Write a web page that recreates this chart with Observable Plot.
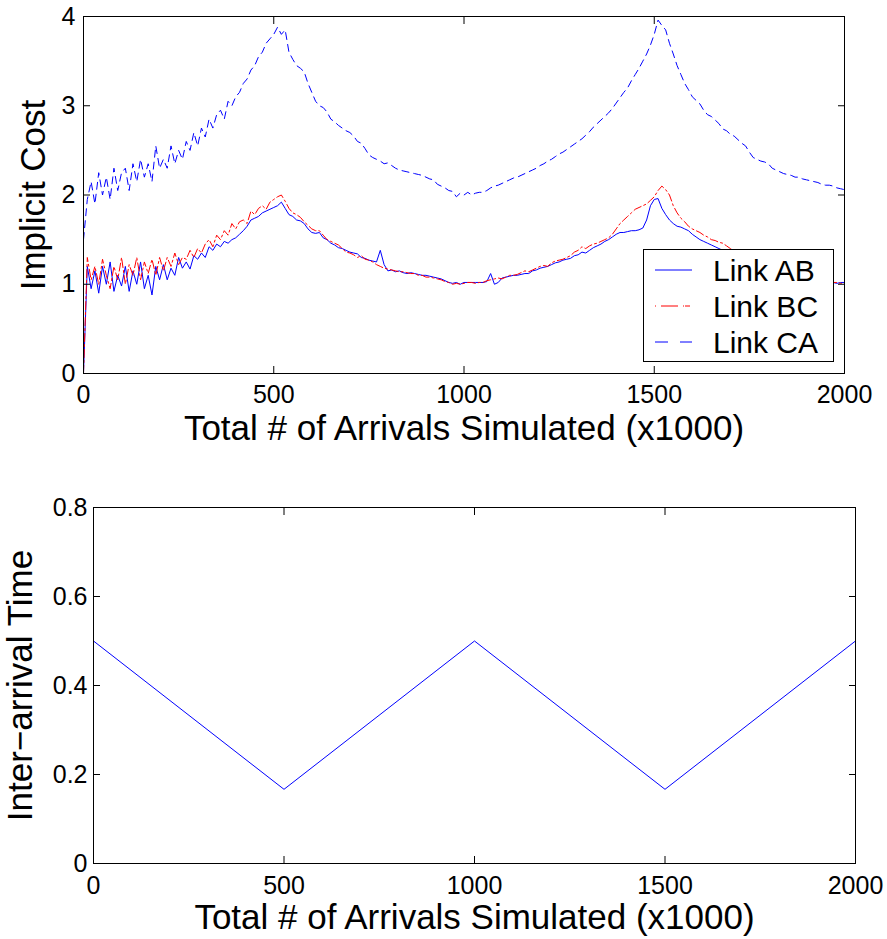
<!DOCTYPE html>
<html>
<head>
<meta charset="utf-8">
<script src="https://cdn.jsdelivr.net/npm/d3@7"></script>
<script src="https://cdn.jsdelivr.net/npm/@observablehq/plot@0.6"></script>
<style>
  html, body { margin: 0; padding: 0; background: #fff; }
  #page { position: relative; width: 887px; height: 939px; background: #fff; overflow: hidden; }
  #page > svg, #page > figure { position: absolute; margin: 0; }
  #costChart { left: 0; top: 0; }
  #rateChart { left: 0; top: 450px; }
  #legend { position: absolute; left: 643px; top: 249px; }
</style>
</head>
<body>
<div id="page"></div>
<script>
// Sample grid: total arrivals simulated (thousands), every 10k arrivals.
const arrivals = d3.range(0, 2001, 10);

// Implicit cost of each link along the run.
const costAB = [
  0,
  1.2, 0.95, 1.15, 0.9, 1.2, 1.0, 1.25, 0.92, 1.1, 0.98,
  1.2, 0.92, 1.15, 1.0, 1.25, 0.95, 1.1, 0.88, 1.2, 1.05,
  1.22, 1.05, 1.18, 1.1, 1.3, 1.18, 1.25, 1.17, 1.32, 1.28,
  1.35, 1.3, 1.42, 1.38, 1.45, 1.42, 1.48, 1.46, 1.5, 1.52,
  1.56, 1.6, 1.65, 1.72, 1.74, 1.76, 1.8, 1.82, 1.84, 1.86,
  1.88, 1.92, 1.85, 1.78, 1.76, 1.72, 1.71, 1.68, 1.62, 1.58,
  1.57, 1.58, 1.52, 1.5, 1.46, 1.44, 1.41, 1.4, 1.38, 1.36,
  1.35, 1.34, 1.3, 1.29, 1.27, 1.26, 1.25, 1.38, 1.22, 1.15,
  1.16, 1.14, 1.15, 1.13, 1.12, 1.13, 1.12, 1.11, 1.1, 1.1,
  1.09, 1.08, 1.07, 1.06, 1.04, 1.02, 1.01, 1.02, 1.0, 1.02,
  1.02, 1.02, 1.02, 1.02, 1.02, 1.03, 1.12, 1.0, 1.02, 1.07,
  1.08, 1.09, 1.1, 1.1, 1.11, 1.12, 1.12, 1.15, 1.16, 1.18,
  1.19, 1.2, 1.22, 1.24, 1.25, 1.27, 1.28, 1.29, 1.32, 1.33,
  1.36, 1.35, 1.38, 1.41, 1.43, 1.45, 1.48, 1.5, 1.53, 1.56,
  1.58, 1.58, 1.59, 1.6, 1.6, 1.61, 1.63, 1.72, 1.88, 1.95,
  1.96, 1.85, 1.78, 1.72, 1.68, 1.65, 1.64, 1.62, 1.6, 1.56,
  1.53, 1.5, 1.48, 1.46, 1.44, 1.42, 1.4, 1.38, 1.36, 1.33,
  1.31, 1.3, 1.28, 1.26, 1.25, 1.22, 1.2, 1.18, 1.16, 1.15,
  1.14, 1.13, 1.12, 1.12, 1.11, 1.1, 1.09, 1.08, 1.07, 1.06,
  1.05, 1.05, 1.04, 1.03, 1.03, 1.02, 1.02, 1.01, 1.02, 1.02
];

const costBC = [
  0,
  1.3, 1.05, 1.2, 1.0, 1.28, 1.1, 0.95, 1.2, 1.05, 1.3,
  1.0, 1.22, 1.1, 1.3, 1.05, 1.25, 1.12, 1.28, 1.1, 1.3,
  1.15, 1.3, 1.2, 1.35, 1.22, 1.3, 1.28, 1.38, 1.3, 1.4,
  1.35, 1.45, 1.5, 1.42, 1.55, 1.5, 1.6, 1.55, 1.68, 1.62,
  1.7, 1.72, 1.68, 1.82, 1.78, 1.85, 1.88, 1.84, 1.92, 1.95,
  1.98, 2.0, 1.93, 1.85, 1.8, 1.78, 1.75, 1.7, 1.66, 1.62,
  1.6, 1.6, 1.55, 1.5, 1.48, 1.46, 1.44, 1.4, 1.36, 1.35,
  1.33, 1.3, 1.32, 1.28, 1.27, 1.25, 1.22, 1.2, 1.18, 1.17,
  1.16, 1.15, 1.14, 1.14, 1.13, 1.12, 1.12, 1.1, 1.1, 1.08,
  1.08, 1.07, 1.06, 1.05, 1.03, 1.02, 1.0, 1.01, 1.0, 1.01,
  1.02, 1.02, 1.01, 1.02, 1.02, 1.04, 1.05, 1.06, 1.07, 1.06,
  1.08, 1.1, 1.1, 1.11, 1.13, 1.15, 1.14, 1.16, 1.18, 1.2,
  1.21, 1.2, 1.24, 1.26, 1.27, 1.28, 1.3, 1.32, 1.36, 1.38,
  1.42, 1.4, 1.43, 1.45, 1.46, 1.48, 1.5, 1.52, 1.56, 1.62,
  1.68, 1.72, 1.76, 1.8, 1.84, 1.86, 1.88, 1.9, 1.94, 1.98,
  2.05, 2.1, 2.06, 2.0, 1.88, 1.8, 1.74, 1.7, 1.65, 1.62,
  1.6, 1.58, 1.55, 1.53, 1.5, 1.49, 1.47, 1.46, 1.43, 1.4,
  1.37, 1.34, 1.31, 1.29, 1.27, 1.25, 1.22, 1.2, 1.18, 1.16,
  1.15, 1.14, 1.13, 1.12, 1.11, 1.1, 1.09, 1.08, 1.07, 1.06,
  1.06, 1.05, 1.04, 1.04, 1.03, 1.03, 1.02, 1.02, 1.01, 1.01
];

const costCA = [
  1.5,
  1.95, 2.15, 1.9, 2.25, 2.0, 2.2, 1.95, 2.3, 2.05, 2.25,
  2.3, 2.05, 2.35, 2.15, 2.4, 2.2, 2.35, 2.15, 2.55, 2.3,
  2.4, 2.3, 2.55, 2.35, 2.5, 2.4, 2.6, 2.5, 2.7, 2.55,
  2.75, 2.65, 2.85, 2.75, 2.9, 2.95, 2.85, 3.05, 3.0, 3.1,
  3.15, 3.25, 3.3, 3.4, 3.45, 3.55, 3.6, 3.7, 3.75, 3.8,
  3.88, 3.8, 3.85, 3.6, 3.52, 3.45, 3.42, 3.38, 3.25, 3.15,
  3.05, 3.0, 2.98, 2.93, 2.85, 2.82, 2.78, 2.75, 2.72, 2.7,
  2.66, 2.6, 2.58, 2.52, 2.45, 2.42, 2.4, 2.38, 2.35, 2.36,
  2.33, 2.3, 2.28, 2.27, 2.26, 2.25, 2.24, 2.23, 2.22, 2.2,
  2.18, 2.17, 2.12, 2.1, 2.08, 2.05, 2.04, 1.98, 2.02, 2.0,
  2.03, 2.0, 2.02, 2.03, 2.03, 2.05, 2.08, 2.1, 2.11, 2.13,
  2.15, 2.17, 2.19, 2.2, 2.22, 2.24, 2.26, 2.28, 2.3, 2.33,
  2.35, 2.38, 2.4, 2.43, 2.46, 2.48, 2.51, 2.54, 2.57, 2.6,
  2.63, 2.67, 2.71, 2.76, 2.8, 2.84, 2.88, 2.92, 2.97, 3.03,
  3.09, 3.15, 3.2, 3.28, 3.35, 3.42, 3.5, 3.58, 3.68, 3.8,
  3.96, 3.9, 3.85, 3.7, 3.58, 3.45, 3.35, 3.25, 3.18, 3.1,
  3.06, 3.02, 2.95, 2.9, 2.88, 2.84, 2.8, 2.74, 2.72, 2.68,
  2.66, 2.62, 2.58, 2.55, 2.48, 2.42, 2.4, 2.38, 2.37, 2.35,
  2.3, 2.28, 2.26, 2.24, 2.23, 2.22, 2.2, 2.2, 2.18, 2.17,
  2.16, 2.15, 2.14, 2.12, 2.11, 2.11, 2.1, 2.08, 2.07, 2.06
];

// Inter-arrival time schedule (piecewise linear).
const scheduleX = [0, 500, 1000, 1500, 2000];
const interArrival = [0.5, 0.1667, 0.5, 0.1667, 0.5];

// Tick values and labels.
const xTicks = [0, 500, 1000, 1500, 2000];
const costTicks = [0, 1, 2, 3, 4];
const timeTicks = [0, 0.2, 0.4, 0.6, 0.8];
const xLabel = "Total # of Arrivals Simulated (x1000)";
const costLabel = "Implicit Cost";
const timeLabel = "Inter\u2212arrival Time";
const seriesNames = ["Link AB", "Link BC", "Link CA"];

const FONT = "'Liberation Sans', Arial, Helvetica, sans-serif";
const BLUE = "#0000ff";
const RED = "#ff0000";

// Inward ticks on all four sides of a boxed axis, plus labelled axes.
function boxAxes(xt, yt, yFormat, xPad, yPad) {
  const blank = () => "";
  return [
    Plot.frame({stroke: "black", strokeWidth: 1}),
    Plot.axisX(xt, {anchor: "bottom", tickSize: -7, tickFormat: blank, label: null}),
    Plot.axisX(xt, {anchor: "top", tickSize: -7, tickFormat: blank, label: null}),
    Plot.axisY(yt, {anchor: "left", tickSize: -7, tickFormat: blank, label: null}),
    Plot.axisY(yt, {anchor: "right", tickSize: -7, tickFormat: blank, label: null}),
    Plot.axisX(xt, {anchor: "bottom", tickSize: 0, tickPadding: xPad, tickFormat: d => String(d), fontSize: 25, label: null}),
    Plot.axisY(yt, {anchor: "left", tickSize: 0, tickPadding: yPad, tickFormat: yFormat, fontSize: 25, label: null})
  ];
}

const costChart = Plot.plot({
  width: 887,
  height: 450,
  marginTop: 16,
  marginLeft: 83,
  marginRight: 43,
  marginBottom: 77,
  style: {fontFamily: FONT, fontSize: "25px", color: "black", background: "transparent", overflow: "visible"},
  x: {domain: [0, 2000]},
  y: {domain: [0, 4]},
  marks: [
    Plot.line(costAB, {x: arrivals, y: costAB, stroke: BLUE, strokeWidth: 1, clip: true}),
    Plot.line(costBC, {x: arrivals, y: costBC, stroke: RED, strokeWidth: 1, strokeDasharray: "8,3,2,3", clip: true}),
    Plot.line(costCA, {x: arrivals, y: costCA, stroke: BLUE, strokeWidth: 1, strokeDasharray: "7,5", clip: true}),
    ...boxAxes(xTicks, costTicks, d => String(d), 12, 8),
    Plot.text([xLabel], {frameAnchor: "bottom", dy: 66, textAnchor: "middle", lineAnchor: "bottom", fontSize: 35, text: d => d}),
    Plot.text([costLabel], {frameAnchor: "left", dx: -50, rotate: -90, textAnchor: "middle", lineAnchor: "middle", fontSize: 35, text: d => d})
  ]
});
costChart.id = "costChart";

const rateChart = Plot.plot({
  width: 887,
  height: 489,
  marginTop: 57,
  marginLeft: 93,
  marginRight: 32,
  marginBottom: 76,
  style: {fontFamily: FONT, fontSize: "25px", color: "black", background: "transparent", overflow: "visible"},
  x: {domain: [0, 2000]},
  y: {domain: [0, 0.8]},
  marks: [
    Plot.line(interArrival, {x: scheduleX, y: interArrival, stroke: BLUE, strokeWidth: 1}),
    ...boxAxes(xTicks, timeTicks, d => (d === 0 ? "0" : d3.format(".1f")(d)), 13, 6),
    Plot.text([xLabel], {frameAnchor: "bottom", dy: 65, textAnchor: "middle", lineAnchor: "bottom", fontSize: 35, text: d => d}),
    Plot.text([timeLabel], {frameAnchor: "left", dx: -73, rotate: -90, textAnchor: "middle", lineAnchor: "middle", fontSize: 35, text: d => d})
  ]
});
rateChart.id = "rateChart";

const page = document.getElementById("page");
page.appendChild(costChart);
page.appendChild(rateChart);

// Legend box inside the upper chart.
const legendStyles = [
  {stroke: BLUE, dash: null},
  {stroke: RED, dash: "1,5,17,5,1"},
  {stroke: BLUE, dash: "13,12"}
];
const legend = d3.create("svg")
  .attr("id", "legend")
  .attr("width", 191)
  .attr("height", 113)
  .style("font-family", FONT);
legend.append("rect")
  .attr("x", 0.5).attr("y", 0.5)
  .attr("width", 190).attr("height", 112)
  .attr("fill", "white").attr("stroke", "black");
seriesNames.forEach((name, i) => {
  const cy = 21 + i * 36;
  legend.append("line")
    .attr("x1", 12).attr("x2", 49)
    .attr("y1", cy).attr("y2", cy)
    .attr("stroke", legendStyles[i].stroke)
    .attr("stroke-width", 1)
    .attr("stroke-dasharray", legendStyles[i].dash);
  legend.append("text")
    .attr("x", 70).attr("y", cy + 10.5)
    .attr("font-size", 30)
    .attr("fill", "black")
    .text(name);
});
page.appendChild(legend.node());
</script>
</body>
</html>
